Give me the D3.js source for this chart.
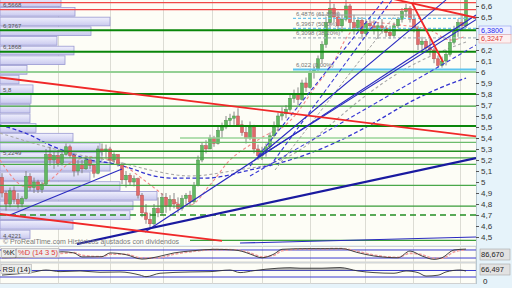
<!DOCTYPE html>
<html><head><meta charset="utf-8">
<script src="https://cdn.jsdelivr.net/npm/d3@7"></script>
<style>
html,body{margin:0;padding:0;background:#e6f3fa;overflow:hidden}
svg{display:block;font-family:"Liberation Sans",Arial,sans-serif}
</style></head><body><svg id="c" width="512" height="288"></svg>
<script>
// ---------- DATA ----------
const open = [5.04,4.9,4.8,4.92,4.84,4.8,4.85,5.05,4.95,5.0, 4.93,4.98,5.25,5.2,5.24,5.17,5.25,5.32,5.24,5.1, 5.16,5.12,5.2,5.15,5.08,5.3,5.28,5.3,5.2,5.25, 5.16,5.02,5.06,5.0,5.03,4.88,4.72,4.66,4.62,4.76, 4.72,4.86,4.78,4.84,4.8,4.76,4.85,4.88,4.82,4.97, 5.2,5.33,5.3,5.4,5.35,5.47,5.5,5.56,5.58,5.6, 5.52,5.45,5.4,5.5,5.3,5.24,5.28,5.32,5.42,5.5, 5.6,5.62,5.66,5.76,5.8,5.75,5.9,5.86,6.0,6.02, 6.12,6.25,6.45,6.58,6.5,6.42,6.48,6.6,6.45,6.4, 6.47,6.35,6.44,6.42,6.38,6.42,6.4,6.36,6.33,6.42, 6.48,6.55,6.58,6.48,6.4,6.25,6.28,6.22,6.2,6.12, 6.06,6.1,6.16,6.27,6.38,6.45,6.42];
const high = [5.08,4.92,4.95,4.96,4.9,4.87,5.1,5.08,5.04,5.02, 5.0,5.3,5.32,5.28,5.29,5.27,5.35,5.34,5.26,5.2, 5.2,5.23,5.22,5.16,5.33,5.35,5.34,5.32,5.27,5.25, 5.18,5.1,5.08,5.06,5.04,4.9,4.8,4.72,4.8,4.86, 4.9,4.9,4.88,4.9,4.86,4.88,4.9,4.92,5.0,5.24, 5.36,5.38,5.43,5.42,5.5,5.54,5.6,5.62,5.64,5.67, 5.56,5.5,5.55,5.52,5.34,5.32,5.35,5.45,5.55,5.63, 5.68,5.7,5.8,5.84,5.86,5.93,5.95,6.02,6.05,6.15, 6.28,6.5,6.7,6.62,6.55,6.52,6.68,6.62,6.52,6.5, 6.5,6.48,6.5,6.47,6.45,6.48,6.42,6.42,6.45,6.5, 6.58,6.62,6.6,6.52,6.42,6.32,6.3,6.3,6.22,6.15, 6.14,6.2,6.3,6.42,6.48,6.53,6.72];
const low = [4.86,4.74,4.77,4.8,4.76,4.77,4.84,4.92,4.9,4.9, 4.9,4.97,5.15,5.12,5.14,5.15,5.24,5.22,5.05,5.06, 5.08,5.11,5.12,5.04,5.07,5.24,5.22,5.17,5.17,5.14, 4.98,4.95,4.97,4.96,4.85,4.68,4.62,4.57,4.6,4.68, 4.7,4.72,4.74,4.76,4.72,4.74,4.8,4.78,4.8,4.96, 5.18,5.26,5.3,5.32,5.34,5.4,5.48,5.5,5.52,5.5, 5.42,5.35,5.38,5.26,5.2,5.2,5.23,5.3,5.4,5.46, 5.56,5.58,5.64,5.72,5.7,5.74,5.82,5.85,5.94,6.0, 6.08,6.22,6.4,6.45,6.38,6.36,6.46,6.4,6.34,6.37, 6.3,6.32,6.38,6.34,6.3,6.35,6.32,6.3,6.31,6.4, 6.45,6.5,6.45,6.36,6.2,6.2,6.18,6.15,6.08,6.04, 6.04,6.06,6.14,6.25,6.32,6.38,6.4];
const close = [4.9,4.8,4.92,4.84,4.8,4.85,5.05,4.95,5.0,4.93, 4.98,5.25,5.2,5.24,5.17,5.25,5.32,5.24,5.1,5.16, 5.12,5.2,5.15,5.08,5.3,5.28,5.3,5.2,5.25,5.16, 5.02,5.06,5.0,5.03,4.88,4.72,4.66,4.62,4.76,4.72, 4.86,4.78,4.84,4.8,4.76,4.85,4.88,4.82,4.97,5.2, 5.33,5.3,5.4,5.35,5.47,5.5,5.56,5.58,5.6,5.52, 5.45,5.4,5.5,5.3,5.24,5.28,5.32,5.42,5.5,5.6, 5.62,5.66,5.76,5.8,5.75,5.9,5.86,6.0,6.02,6.12, 6.25,6.45,6.58,6.5,6.42,6.48,6.6,6.45,6.4,6.47, 6.35,6.44,6.42,6.38,6.42,6.4,6.36,6.33,6.42,6.48, 6.55,6.58,6.48,6.4,6.25,6.28,6.22,6.2,6.12,6.06, 6.1,6.16,6.27,6.38,6.45,6.42,6.7];

// volume-by-price (bin top price, volume in thousands)
const vpLevels = [6.679,6.591,6.503,6.415,6.327,6.239,6.151,6.063,5.975,5.887,5.799,5.711,5.623,5.535,5.447,5.359,5.271,5.183,5.095,5.007,4.919,4.831,4.743,4.655,4.567];
const vpVolume = [61,75,110,91,57,74,65,27,19,33,31,30,30,36,73,100,102,110,90,120,157,133,130,73,30];
const vpBin = 0.088;
const vpLabels = [6.6569,6.5668,6.3767,6.1868,5.8,5.2249,4.4221];

// moving averages (candle index, price)
const maRed  = [[-0.5,5.2],[6.25,4.955],[12,5.018],[16.25,5.155],[22,5.227],[27,5.2],[30.25,5.155],[34.5,5.045],[38.75,4.927],[42,4.836],[47,4.791],[52,4.973],[57,5.2],[62,5.336],[67,5.445],[70.25,5.5],[73.75,5.627],[77.75,5.836],[82.75,6.082],[86.25,6.318],[90.25,6.455],[99.5,6.427],[107,6.382],[112,6.291],[116,6.3247]];
const maGray = [[-0.5,5.445],[9.5,5.336],[19.5,5.245],[30,5.173],[37,5.109],[47,5.055],[58.75,5.109],[67.75,5.173],[74.5,5.291],[82,5.518],[89.5,5.745],[99.5,6.0],[109.5,6.182],[116,6.273]];
const maBlue = [[-0.5,5.518],[7,5.427],[12,5.336],[17,5.264],[22,5.2],[27,5.173],[32,5.127],[37,5.064],[42,5.036],[51.25,5.036],[62,5.109],[72,5.2],[82,5.336],[92,5.518],[102,5.727],[109.5,5.855],[116,5.945]];

// horizontal levels
const greenLevels = [6.38,6.185,6.0,5.8,5.69,5.51,5.40,5.36,5.28,5.22,5.16,4.97,4.78,4.70,4.47];
const redLevels = [6.63,6.5668];
const fibLevels = [6.4876,6.3967,6.3098,6.022];
const fibPct = ["61,80%","50,0%","38,20%","0,00%"];
const fibStart = 72.75;

// trend lines [i0,p0,i1,p1]
const redTrend = [[-0.5,5.95,118.5,5.414],[-0.5,4.709,55,4.464],[94.5,6.691,118.75,6.491],[102.5,6.627,110.25,6.091]];
const blueThick = [[18.75,4.436,118.5,5.218]];
const blueTrend = [[2,4.7,30,5.118],[35.75,4.545,118.5,6.518],[63.75,5.218,111,6.655],[63.75,5.218,118.75,6.482],[59.5,4.445,118.5,4.5]];
const blueDashTrend = [[62,5.145,95.5,6.655],[67,5.145,97.5,6.655],[62,5.055,118.5,6.245]];
const grayDashTrend = [[68.25,5.109,98.25,6.518]];

// indicators (candle index, value)
const stochIdx = [0,5,10,15,18,20,25,27,31,35,39,43,48,53,58,60,62,65,68,70,76,85,89,93,99,102,105,108,110,113,116];
const stochK = [22,25,40,67,58,28,30,58,45,12,30,58,75,85,80,70,50,22,50,85,90,90,60,35,22,72,35,10,22,80,86.67];
const stochD = [25,24,33,55,60,40,30,48,48,20,22,48,70,83,82,75,58,30,40,75,88,90,68,42,25,55,45,18,18,65,82];
const rsiIdx = [0,8,11,14.5,19.5,24.5,29.5,34.5,36,39.5,47,52,57,59.5,63,66,69,72,74.5,80,84.5,89,93,98,101,104,106,109,111,114.5,116];
const rsiVal = [42,61,73,63,67,59,61,42,32,53,61,63,73,57,69,78,84,87,84,84,88,67,57,53,67,57,36,41,61,73,66.497];
const gridIdx = [14,27,40.25,52.5,65,77,90.75,102.75,114.5];
const lastPrice = 6.38, lastMA = 6.3247;

// ---------- DRAW ----------
const svg = d3.select("#c");
const PW = 476, PH = 245;
const x = d3.scaleLinear().domain([0,116]).range([2,466]);
const y = d3.scaleLinear().domain([6.6,4.5]).range([6,237]);
const xv = d3.scaleLinear().domain([0,160]).range([0,160]);
const yS = d3.scaleLinear().domain([0,100]).range([260.7,247.3]);
const yR = d3.scaleLinear().domain([0,100]).range([281.9,265.6]);
const loc = d3.formatLocale({decimal:",",thousands:" ",grouping:[3],currency:["","€"]});
const fAx = loc.format(".1~f"), f4 = loc.format(".4~f"), f4f = loc.format(".4f"), f3 = loc.format(".3f");

const defs = svg.append("defs");
defs.append("clipPath").attr("id","cp").append("rect").attr("x",0).attr("y",0).attr("width",PW).attr("height",PH);
defs.append("clipPath").attr("id","cs").append("rect").attr("x",0).attr("y",247).attr("width",PW).attr("height",15);
defs.append("clipPath").attr("id","cr").append("rect").attr("x",0).attr("y",263.5).attr("width",PW).attr("height",20);
const g = defs.append("linearGradient").attr("id","vpg").attr("x1",0).attr("y1",0).attr("x2",0).attr("y2",1);
g.append("stop").attr("offset","0%").attr("stop-color","#f0f0fd");
g.append("stop").attr("offset","100%").attr("stop-color","#c9c9ee");

// panels
svg.append("rect").attr("x",0).attr("y",0).attr("width",PW).attr("height",PH).attr("fill","#fdfdf6");
svg.append("rect").attr("x",0).attr("y",246.5).attr("width",PW).attr("height",15.5).attr("fill","#fdfdf6").attr("stroke","#c8c8c8").attr("stroke-width",0.8);
svg.append("rect").attr("x",0).attr("y",263).attr("width",PW).attr("height",20.5).attr("fill","#fdfdf6").attr("stroke","#c8c8c8").attr("stroke-width",0.8);
svg.append("line").attr("x1",PW+0.5).attr("x2",PW+0.5).attr("y1",0).attr("y2",284).attr("stroke","#b8c8d0");

// vertical grid
[[0,PH],[246.5,262],[263,283.5]].forEach(([a,b])=>{
  svg.append("g").selectAll("line").data(gridIdx).join("line")
    .attr("x1",d=>Math.round(x(d))+0.5).attr("x2",d=>Math.round(x(d))+0.5)
    .attr("y1",a).attr("y2",b).attr("stroke","#dcdcd4").attr("stroke-width",1);
});

const main = svg.append("g").attr("clip-path","url(#cp)");

// volume profile
main.append("g").selectAll("rect").data(vpLevels).join("rect")
  .attr("x",0).attr("y",d=>y(d)+0.5)
  .attr("width",(d,i)=>xv(vpVolume[i]))
  .attr("height",d=>y(d-vpBin)-y(d)-1)
  .attr("fill","url(#vpg)").attr("stroke","#9a9ad2").attr("stroke-width",0.8);

// moving averages
const ml = d3.line().x(d=>x(d[0])).y(d=>y(d[1])).curve(d3.curveMonotoneX);
main.append("path").datum(maBlue).attr("d",ml).attr("fill","none").attr("stroke","#3434d0").attr("stroke-width",1.3).attr("stroke-dasharray","4,2.5");
main.append("path").datum(maGray).attr("d",ml).attr("fill","none").attr("stroke","#a8a8a8").attr("stroke-width",1.1).attr("stroke-dasharray","3,2.5");
main.append("path").datum(maRed).attr("d",ml).attr("fill","none").attr("stroke","#f08888").attr("stroke-width",1.1).attr("stroke-dasharray","3,2.5");

// candles
const idx = d3.range(open.length);
const cg = main.append("g");
cg.selectAll("line").data(idx).join("line")
  .attr("x1",i=>x(i)).attr("x2",i=>x(i)).attr("y1",i=>y(high[i])).attr("y2",i=>y(low[i]))
  .attr("stroke","#7a7a7a").attr("stroke-width",0.9);
cg.selectAll("rect").data(idx).join("rect")
  .attr("x",i=>x(i)-1.5).attr("width",3)
  .attr("y",i=>y(Math.max(open[i],close[i])))
  .attr("height",i=>Math.max(1,Math.abs(y(open[i])-y(close[i]))))
  .attr("fill",i=>close[i]>=open[i]?"#63b863":"#e06a6a")
  .attr("stroke",i=>close[i]>=open[i]?"#4a8f4a":"#b85050").attr("stroke-width",0.5);

// horizontal green levels
const gStyle = [["#0a860a",2,null,-1],["#0a860a",2,null,-1],["#94d094",2,null,-1],["#0a860a",2,null,-1],["#3a9e3a",1.3,null,-1],["#0a860a",2,null,-1],["#98d498",1.5,null,44.5],["#6cbc6c",1.4,null,-1],["#238f23",1.5,null,-1],["#4aa84a",1.2,null,-1],["#4aa84a",1.2,null,-1],["#4aa84a",1.2,null,-1],["#389c38",1.3,null,-1],["#238f23",1.3,"6,4",-1],["#3aa03a",1.2,null,47]];
main.append("g").selectAll("line").data(greenLevels).join("line")
  .attr("x1",(d,i)=>gStyle[i][3]<0?0:x(gStyle[i][3])).attr("x2",PW)
  .attr("y1",d=>y(d)).attr("y2",d=>y(d))
  .attr("stroke",(d,i)=>gStyle[i][0]).attr("stroke-width",(d,i)=>gStyle[i][1])
  .attr("stroke-dasharray",(d,i)=>gStyle[i][2]);
main.append("g").selectAll("line").data(redLevels).join("line")
  .attr("x1",0).attr("x2",PW).attr("y1",d=>y(d)).attr("y2",d=>y(d))
  .attr("stroke","#f04848").attr("stroke-width",1.3);

// fib levels
const fg = main.append("g");
fg.selectAll("line").data(fibLevels).join("line")
  .attr("x1",x(fibStart)).attr("x2",PW).attr("y1",d=>y(d)).attr("y2",d=>y(d))
  .attr("stroke",(d,i)=>i===3?"#5cc4ee":(i===2?"#a6b6c0":"#70c4ec"))
  .attr("stroke-width",(d,i)=>i===3?2:1.2)
  .attr("stroke-dasharray",(d,i)=>i===3?null:"3,2");
main.append("line").attr("x1",x(78.75)).attr("x2",x(116.25)).attr("y1",y(6.518)).attr("y2",y(6.518)).attr("stroke","#a0a0a0").attr("stroke-width",1);
fg.selectAll("text").data(fibLevels).join("text")
  .attr("x",x(fibStart)+3).attr("y",d=>y(d)-2.5)
  .attr("font-size",6).attr("fill","#777")
  .text((d,i)=>`${f4(d)} (${fibPct[i]})`);

// trend lines
function drawTrend(data,color,w,dash){
  main.append("g").selectAll("line").data(data).join("line")
    .attr("x1",d=>x(d[0])).attr("y1",d=>y(d[1])).attr("x2",d=>x(d[2])).attr("y2",d=>y(d[3]))
    .attr("stroke",color).attr("stroke-width",w).attr("stroke-dasharray",dash);
}
drawTrend(grayDashTrend,"#a0a0a0",1,"3,2");
drawTrend(blueDashTrend,"#3a3ad6",1.1,"4,2.5");
drawTrend(blueTrend,"#2a2ac0",1.1,null);
drawTrend(blueThick,"#1a1aa0",2.2,null);
drawTrend(redTrend,"#f02828",1.8,null);

// left volume profile labels
main.append("g").selectAll("text").data(vpLabels).join("text")
  .attr("x",3).attr("y",d=>Math.min(y(d)-2.5,237.5))
  .attr("font-size",6).attr("fill","#555").text(d=>f4(d));

// copyright
svg.append("text").attr("x",3).attr("y",243.6).attr("font-size",7).attr("fill","#7a7a7a")
  .text("© ProRealTime.com   Históricos ajustados con dividendos");

// right axis
const ticks = y.ticks(22).filter(t=>t>=4.5&&t<=6.6);
const ax = svg.append("g");
ax.selectAll("line").data(ticks).join("line")
  .attr("x1",PW).attr("x2",PW+3).attr("y1",d=>Math.round(y(d))+0.5).attr("y2",d=>Math.round(y(d))+0.5)
  .attr("stroke","#555");
ax.selectAll("text").data(ticks.filter(t=>Math.abs(t-6.4)>0.01&&Math.abs(t-6.3)>0.01)).join("text")
  .attr("x",PW+5).attr("y",d=>y(d)).attr("dy","0.35em")
  .attr("font-size",8).attr("fill","#333").text(d=>fAx(d));

// price boxes
function box(cy,txt,fill,stroke,color){
  svg.append("rect").attr("x",479).attr("y",cy-4.2).attr("width",32).attr("height",8.4).attr("fill",fill).attr("stroke",stroke).attr("stroke-width",0.7);
  svg.append("text").attr("x",481).attr("y",cy).attr("dy","0.35em").attr("font-size",7.2).attr("fill",color).text(txt);
}
box(y(lastPrice),f4f(lastPrice),"#eef0ff","#9aa8f0","#2a2af0");
box(y(lastPrice)+8.6,f4f(lastMA),"#fdf0f0","#e8b0b0","#e03a3a");

// stochastic
const sp = svg.append("g").attr("clip-path","url(#cs)");
[80,20].forEach(v=>sp.append("line").attr("x1",0).attr("x2",PW).attr("y1",yS(v)).attr("y2",yS(v)).attr("stroke","#3a3ad0").attr("stroke-width",1));
const sl = (arr)=>d3.line().x((d,i)=>x(stochIdx[i])).y(d=>yS(d)).curve(d3.curveMonotoneX)(arr);
sp.append("path").attr("d",sl(stochD)).attr("fill","none").attr("stroke","#f0a0a0").attr("stroke-width",1.6).attr("stroke-dasharray","3,1.5");
sp.append("path").attr("d",sl(stochK)).attr("fill","none").attr("stroke","#333").attr("stroke-width",0.9);

// RSI
const rp = svg.append("g").attr("clip-path","url(#cr)");
[70,30].forEach(v=>rp.append("line").attr("x1",0).attr("x2",PW).attr("y1",yR(v)).attr("y2",yR(v)).attr("stroke","#3a3ad0").attr("stroke-width",1));
rp.append("path").attr("d",d3.area().x((d,i)=>x(rsiIdx[i])).y0(yR(70)).y1(d=>yR(Math.max(d,70))).curve(d3.curveMonotoneX)(rsiVal))
  .attr("fill","#888").attr("opacity",0.6);
rp.append("path").attr("d",d3.line().x((d,i)=>x(rsiIdx[i])).y(d=>yR(d)).curve(d3.curveMonotoneX)(rsiVal))
  .attr("fill","none").attr("stroke","#333").attr("stroke-width",0.9);

// indicator labels
function lbl(x0,y0,w,txt,color){
  svg.append("rect").attr("x",x0).attr("y",y0).attr("width",w).attr("height",9).attr("fill","#ececec").attr("stroke","#b0b0b0").attr("stroke-width",0.6);
  svg.append("text").attr("x",x0+1.5).attr("y",y0+4.5).attr("dy","0.35em").attr("font-size",7.5).attr("fill",color).text(txt);
}
lbl(1.5,248.3,14,"%K","#222");
lbl(16.5,248.3,42.5,"%D (14 3 5)","#e03a3a");
lbl(1,264.5,30.5,"RSI (14)","#222");

function vbox(cy,txt){
  svg.append("rect").attr("x",480).attr("y",cy-5.5).attr("width",30).attr("height",11).attr("fill","#e2e2e2").attr("stroke","#a8a8a8").attr("stroke-width",0.6);
  svg.append("text").attr("x",481).attr("y",cy).attr("dy","0.35em").attr("font-size",7.5).attr("fill","#222").text(txt);
}
vbox(254.5,f3(stochK[stochK.length-1]));
vbox(269.5,f3(rsiVal[rsiVal.length-1]));
svg.append("text").attr("x",483).attr("y",yR(0)).attr("dy","0.2em").attr("font-size",8).attr("fill","#222").text("0");

// bottom legend strip (cut off at the window edge, as in the source)
const leg = [[2,"Vol: 12,34","#666"],[38,"MM 20","#2a9a2a"],[62,"M","#e03a3a"],[78,"MM50 10,03 45","#3a3ad0"]];
svg.append("g").selectAll("text").data(leg).join("text")
  .attr("x",d=>d[0]).attr("y",292.5).attr("font-size",8).attr("fill",d=>d[2]).text(d=>d[1]);
</script></body></html>
